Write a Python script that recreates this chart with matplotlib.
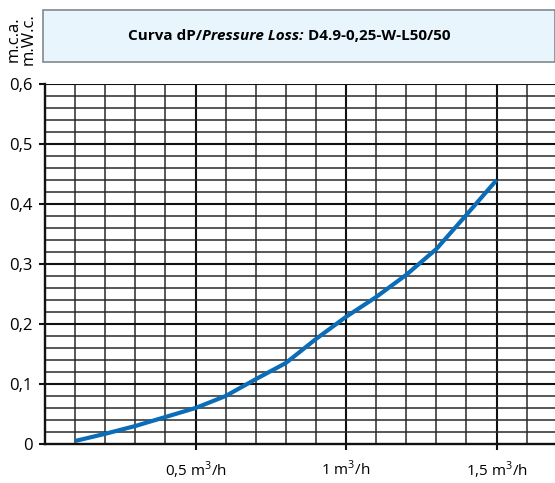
import matplotlib
matplotlib.use("Agg")
import matplotlib.pyplot as plt
from matplotlib.patches import Rectangle
import numpy as np

# data
flow = [0.1, 0.2, 0.3, 0.4, 0.5, 0.6, 0.7, 0.8, 0.9, 1.0, 1.1, 1.2, 1.3, 1.4, 1.5]
dp = [0.005, 0.017, 0.03, 0.045, 0.06, 0.08, 0.108, 0.135, 0.175, 0.212, 0.245, 0.282, 0.325, 0.382, 0.44]
y_ticks = [0, 0.1, 0.2, 0.3, 0.4, 0.5, 0.6]
y_labels = ["0", "0,1", "0,2", "0,3", "0,4", "0,5", "0,6"]
x_ticks = [0.5, 1.0, 1.5]
x_labels = ["0,5 m$^3$/h", "1 m$^3$/h", "1,5 m$^3$/h"]

plt.rcParams['font.family'] = ['Open Sans', 'DejaVu Sans']
plt.rcParams['mathtext.fontset'] = 'custom'
plt.rcParams['mathtext.rm'] = 'Open Sans'

fig = plt.figure(figsize=(5.55, 4.83), dpi=100)
ax = fig.add_axes([45 / 555, 39 / 483, 1 - 45 / 555, 360 / 483])

# grid
for xv in np.arange(0.1, 1.75, 0.1):
    major = abs(xv * 2 - round(xv * 2)) < 1e-6
    ax.axvline(xv, color="#111111" if major else "#2a2a2a", lw=1.5 if major else 1.1, zorder=1)
for yv in np.arange(0.02, 0.61, 0.02):
    major = abs(yv * 10 - round(yv * 10)) < 1e-6
    ax.axhline(yv, color="#111111" if major else "#2a2a2a", lw=1.5 if major else 1.1, zorder=1)

ax.plot(flow, dp, color="#0b6db8", lw=3, solid_capstyle="butt", zorder=3)

ax.set_xlim(0, 1.694)
ax.set_ylim(0, 0.6)
ax.set_yticks(y_ticks)
ax.set_yticklabels(y_labels, fontsize=12)
ax.set_xticks(x_ticks)
ax.set_xticklabels(x_labels, fontsize=11)
ax.tick_params(axis="y", length=4, width=1.5, color="#111111", pad=5)
ax.tick_params(axis="x", length=4, width=1.5, color="#111111", pad=7)
for s in ["top", "right"]:
    ax.spines[s].set_visible(False)
for s in ["left", "bottom"]:
    ax.spines[s].set_linewidth(1.7)
    ax.spines[s].set_color("#111111")

# y label
fig.text(21 / 555, 1 - 39 / 483, "m.c.a.\nm.W.c.", rotation=90, fontsize=12,
         ha="center", va="center", linespacing=0.95)

# title box
fig.patches.append(Rectangle((43 / 555, 1 - 62 / 483), 1 - 43 / 555, 52 / 483,
                             transform=fig.transFigure, facecolor="#e9f5fd",
                             edgecolor="#7f8a90", lw=1.2))
parts = [("Curva dP/", "normal"), ("Pressure Loss:", "italic"), (" D4.9-0,25-W-L50/50", "normal")]
fig.canvas.draw()
r = fig.canvas.get_renderer()
texts = []
total = 0
for s, st in parts:
    t = fig.text(0, 1 - 36 / 483, s, fontsize=11, fontweight="bold", style=st, va="center")
    w = t.get_window_extent(r).width
    texts.append((t, w))
    total += w
x0 = (131 + 448) / 2 - total / 2
for t, w in texts:
    t.set_x(x0 / 555)
    x0 += w

fig.savefig("out.png", dpi=100)
